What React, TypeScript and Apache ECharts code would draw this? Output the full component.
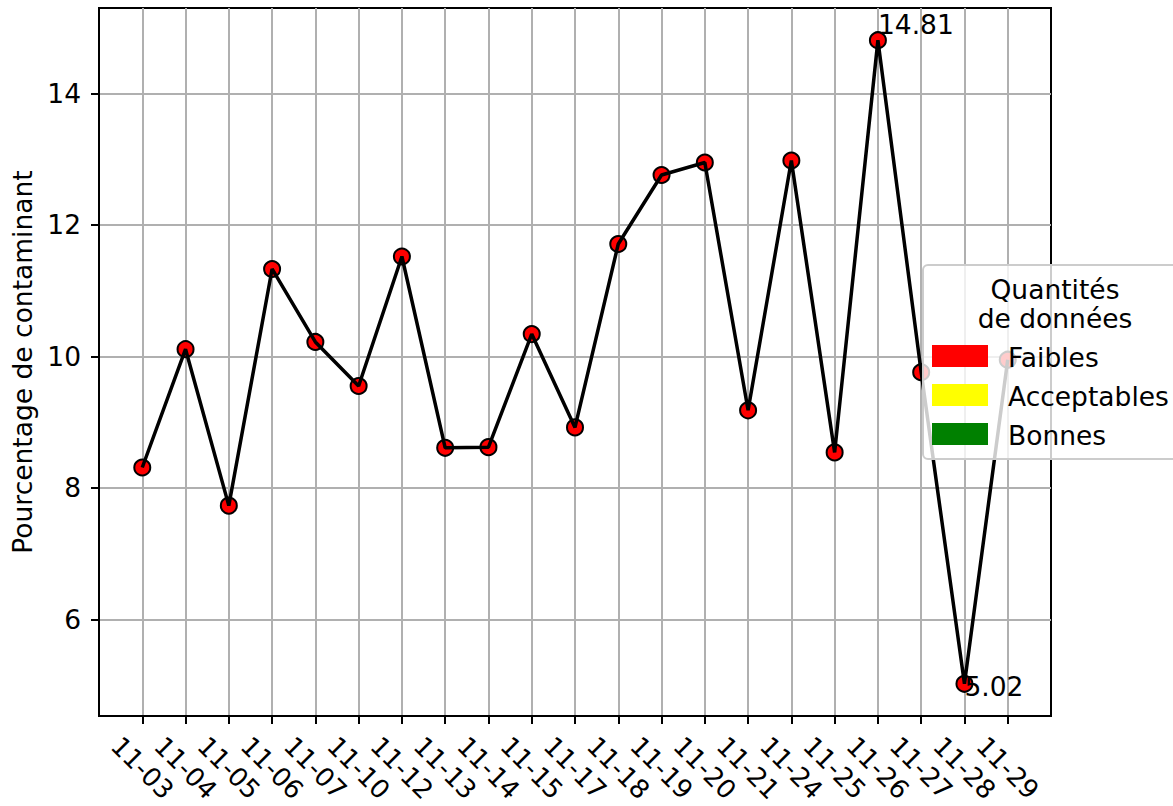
import React, { useEffect, useRef } from "react";
import * as echarts from "echarts";

const categories = ["11-03","11-04","11-05","11-06","11-07","11-10","11-12","11-13","11-14","11-15","11-17","11-18","11-19","11-20","11-21","11-24","11-25","11-26","11-27","11-28","11-29"];
const values = [8.31, 10.11, 7.73, 11.33, 10.22, 9.55, 11.52, 8.61, 8.62, 10.34, 8.92, 11.71, 12.76, 12.95, 9.18, 12.98, 8.54, 14.81, 9.76, 5.02, 9.95];
const yTicks = [6, 8, 10, 12, 14];
const annotated: Record<number, number[]> = { 17: [0, -16], 19: [0, 3] };
const legendTitle = ["Quantités", "de données"];
const legendItems = ["Faibles", "Acceptables", "Bonnes"];
const legendColors = ["#ff0000", "#ffff00", "#008000"];

const FONT = "DejaVu Sans";
const FS = 26.5;

export default function App() {
  const ref = useRef<HTMLDivElement>(null);
  useEffect(() => {
    if (!ref.current) return;
    const chart = echarts.init(ref.current, null, { renderer: "svg" });
    const xIdx = categories.map((_, i) => i);
    const pts = values.map((v, i) => [i, v]);
    const scatterData = pts.map((p, i) => {
      if (annotated[i]) {
        return {
          value: p,
          label: {
            show: true,
            formatter: String(values[i]),
            position: "inside",
            align: "left",
            verticalAlign: "middle",
            offset: annotated[i],
            fontSize: FS,
            fontFamily: FONT,
            color: "#000",
          },
        };
      }
      return { value: p };
    });
    const legendEls: any[] = [
      {
        type: "rect",
        shape: { x: 923, y: 265, width: 270, height: 194, r: 5 },
        style: { fill: "rgba(255,255,255,0.8)", stroke: "#cccccc", lineWidth: 2 },
        z: 100,
      },
    ];
    legendTitle.forEach((t, i) => {
      legendEls.push({
        type: "text",
        z: 101,
        style: {
          text: t, x: 1055, y: 289 + i * 29, fontSize: FS, fontFamily: FONT, fill: "#000",
          align: "center", verticalAlign: "middle", textAlign: "center", textVerticalAlign: "middle",
        },
      });
    });
    legendItems.forEach((t, i) => {
      legendEls.push({
        type: "rect",
        z: 101,
        shape: { x: 932, y: 345 + i * 39, width: 56, height: 22 },
        style: { fill: legendColors[i] },
      });
      legendEls.push({
        type: "text",
        z: 101,
        style: {
          text: t, x: 1008, y: 357 + i * 39, fontSize: FS, fontFamily: FONT, fill: "#000",
          align: "left", verticalAlign: "middle", textAlign: "left", textVerticalAlign: "middle",
        },
      });
    });
    chart.setOption({
      animation: false,
      backgroundColor: "#ffffff",
      textStyle: { fontFamily: FONT },
      grid: {
        left: 99, top: 8, width: 952, height: 708, show: true, borderColor: "#000", borderWidth: 2,
        containLabel: false, outerBoundsMode: "none",
      },
      xAxis: {
        type: "value",
        min: -1,
        max: 21,
        axisLine: { show: true, onZero: false, lineStyle: { color: "#000", width: 2 } },
        axisTick: { show: true, customValues: xIdx, length: 8, lineStyle: { color: "#000", width: 2 } },
        axisLabel: {
          show: true,
          customValues: xIdx,
          formatter: (v: number) => categories[Math.round(v)] ?? "",
          rotate: -45,
          align: "center",
          verticalAlign: "middle",
          margin: 52,
          fontSize: 26,
          lineHeight: 26,
          fontFamily: FONT,
          color: "#000",
        },
        splitLine: { show: true, lineStyle: { color: "#b0b0b0", width: 2 } },
      },
      yAxis: {
        type: "value",
        min: 4.53,
        max: 15.3,
        name: "Pourcentage de contaminant",
        nameLocation: "middle",
        nameGap: 63,
        nameTextStyle: { fontSize: FS, fontFamily: FONT, color: "#000" },
        axisLine: { show: true, onZero: false, lineStyle: { color: "#000", width: 2 } },
        axisTick: { show: true, customValues: yTicks, length: 8, lineStyle: { color: "#000", width: 2 } },
        axisLabel: { show: true, customValues: yTicks, margin: 18, fontSize: FS, fontFamily: FONT, color: "#000" },
        splitLine: { show: true, lineStyle: { color: "#b0b0b0", width: 2 } },
      },
      series: [
        {
          type: "scatter",
          data: scatterData,
          symbolSize: 16,
          itemStyle: { color: "#ff0000", borderColor: "#000", borderWidth: 2, opacity: 1 },
          z: 2,
        },
        {
          type: "line",
          data: pts,
          symbol: "none",
          lineStyle: { color: "#000", width: 3.5 },
          z: 3,
        },
      ],
      graphic: legendEls,
    });
    return () => chart.dispose();
  }, []);
  return <div ref={ref} style={{ position: "fixed", left: 0, top: 0, width: 1173, height: 806 }} />;
}
